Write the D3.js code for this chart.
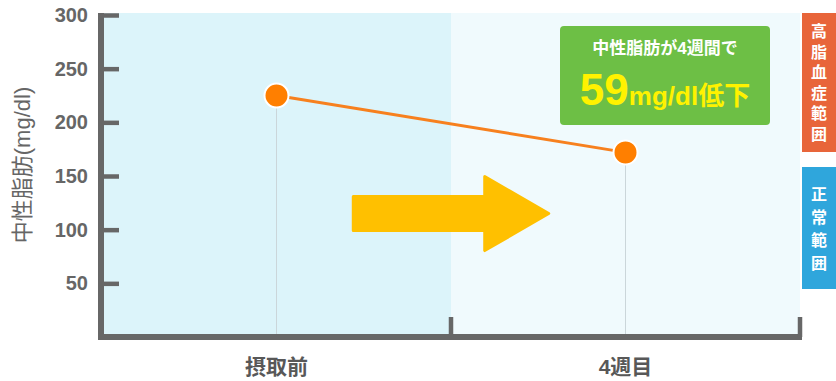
<!doctype html>
<html lang="ja">
<head>
  <meta charset="utf-8">
  <title>中性脂肪の変化</title>
  <style type="text/css">
    body{ margin:0; background:#fff; }
    text{ font-family: "Liberation Sans", "Noto Sans CJK JP", sans-serif; }
  </style>
</head>
<body>
  <div id="vis"></div>
  <script src="https://cdn.jsdelivr.net/npm/d3@7"></script>
  <script type="text/javascript">

    // data
    var categories = ['摂取前', '4週目'],
      values = [225, 172],
      yTicks = [50, 100, 150, 200, 250, 300],
      yTitle = '中性脂肪(mg/dl)',
      noteTop = '中性脂肪が4週間で',
      noteNum = '59',
      noteUnit = 'mg/dl低下',
      rangeHigh = '高脂血症範囲',
      rangeNormal = '正常範囲';

    var width = 836, height = 381,
      padLeft = 102, padRight = 800, padTop = 13, base = 337;

    var vis = d3.select('#vis').append('svg').attr('width', width).attr('height', height);

    var x = d3.scaleBand().domain(categories).range([padLeft, padRight]);
    var y = d3.scaleLinear().domain([0, 300]).range([base, 15]);
    var cx = function(d){ return x(d) + x.bandwidth()/2; };

    // panel backgrounds
    vis.selectAll('rect.bg').data(categories).enter().append('rect')
      .attr('class', 'bg')
      .attr('x', function(d){ return x(d); })
      .attr('y', padTop)
      .attr('width', x.bandwidth())
      .attr('height', base - padTop)
      .style('fill', function(d,i){ return i == 0 ? '#dcf4fa' : '#f0fafd'; });

    // thin drop lines
    vis.selectAll('line.drop').data(values).enter().append('line')
      .attr('x1', function(d,i){ return cx(categories[i]); })
      .attr('x2', function(d,i){ return cx(categories[i]); })
      .attr('y1', function(d){ return y(d); })
      .attr('y2', base)
      .style('stroke', '#cbd6da')
      .style('stroke-width', 1);

    // arrow
    var ax0 = x(categories[0]) + x.bandwidth()*0.72, ax1 = x(categories[1]) + x.bandwidth()*0.28,
      ay = y(115), hw = 17, hh = 37, hl = 64;
    vis.append('path')
      .attr('d', 'M'+ax0+','+(ay-hw)+' L'+(ax1-hl)+','+(ay-hw)+' L'+(ax1-hl)+','+(ay-hh)+
        ' L'+ax1+','+ay+' L'+(ax1-hl)+','+(ay+hh)+' L'+(ax1-hl)+','+(ay+hw)+' L'+ax0+','+(ay+hw)+' Z')
      .style('fill', '#ffc000')
      .style('stroke', '#ffc000')
      .style('stroke-width', 3)
      .style('stroke-linejoin', 'round');

    // y axis
    var yAxis = d3.axisLeft(y).tickValues(yTicks).tickSize(-18).tickPadding(13);
    var gy = vis.append('g').attr('transform', 'translate('+(padLeft-1)+',0)').call(yAxis);
    gy.select('.domain').remove();
    gy.selectAll('.tick line').style('stroke', '#676767').style('stroke-width', 4.5);
    gy.selectAll('.tick text')
      .style('font-size', '20px').style('font-weight', 'bold').style('fill', '#666');

    vis.append('line')
      .attr('x1', padLeft-1).attr('x2', padLeft-1).attr('y1', padTop).attr('y2', base+3)
      .style('stroke', '#676767').style('stroke-width', 6);

    // x axis
    vis.append('line')
      .attr('x1', padLeft-4).attr('x2', padRight+2).attr('y1', base).attr('y2', base)
      .style('stroke', '#676767').style('stroke-width', 6);

    vis.selectAll('line.xtick').data(categories).enter().append('line')
      .attr('x1', function(d){ return x(d) + x.bandwidth(); })
      .attr('x2', function(d){ return x(d) + x.bandwidth(); })
      .attr('y1', base - 20).attr('y2', base)
      .style('stroke', '#676767').style('stroke-width', 4.5);

    vis.selectAll('text.xlab').data(categories).enter().append('text')
      .attr('x', cx).attr('y', 374)
      .attr('text-anchor', 'middle')
      .style('font-size', '21px').style('font-weight', 'bold').style('fill', '#585858')
      .text(function(d){ return d; });

    vis.append('text')
      .attr('transform', 'translate(30,165) rotate(-90)')
      .attr('text-anchor', 'middle')
      .style('font-size', '22px').style('fill', '#666')
      .text(yTitle);

    // line and points
    var line = d3.line().x(function(d,i){ return cx(categories[i]); }).y(function(d){ return y(d); });
    vis.append('path')
      .attr('d', line(values))
      .style('fill', 'none').style('stroke', '#f7801e').style('stroke-width', 3);

    vis.selectAll('circle').data(values).enter().append('circle')
      .attr('cx', function(d,i){ return cx(categories[i]); })
      .attr('cy', function(d){ return y(d); })
      .attr('r', 12)
      .style('fill', '#ff7f00').style('stroke', '#fff').style('stroke-width', 2);

    // green note
    vis.append('rect')
      .attr('x', 560).attr('y', 26).attr('width', 210).attr('height', 99).attr('rx', 4)
      .style('fill', '#6dbf45');
    vis.append('text')
      .attr('x', 665).attr('y', 54).attr('text-anchor', 'middle')
      .style('font-size', '17px').style('font-weight', 'bold').style('fill', '#fff')
      .text(noteTop);
    var big = vis.append('text')
      .attr('x', 665).attr('y', 105).attr('text-anchor', 'middle')
      .style('font-weight', 'bold').style('fill', '#fff200');
    big.append('tspan').style('font-size', '44px').text(noteNum);
    big.append('tspan').style('font-size', '26px').text(noteUnit);

    // range labels on the right
    function sideLabel(label, y0, y1, color, step){
      vis.append('rect')
        .attr('x', 802).attr('y', y0).attr('width', 34).attr('height', y1 - y0)
        .style('fill', color);
      var chars = label.split('');
      var mid = (y0 + y1)/2, start = mid - (chars.length - 1)*step/2;
      vis.selectAll(null).data(chars).enter().append('text')
        .attr('x', 819).attr('y', function(d,i){ return start + i*step + 6; })
        .attr('text-anchor', 'middle')
        .style('font-size', '16px').style('font-weight', 'bold').style('fill', '#fff')
        .text(function(d){ return d; });
    }
    sideLabel(rangeHigh, 13, 152, '#e8653a', 20.5);
    sideLabel(rangeNormal, 167, 289, '#2fa6dc', 23);

  </script>
</body>
</html>
